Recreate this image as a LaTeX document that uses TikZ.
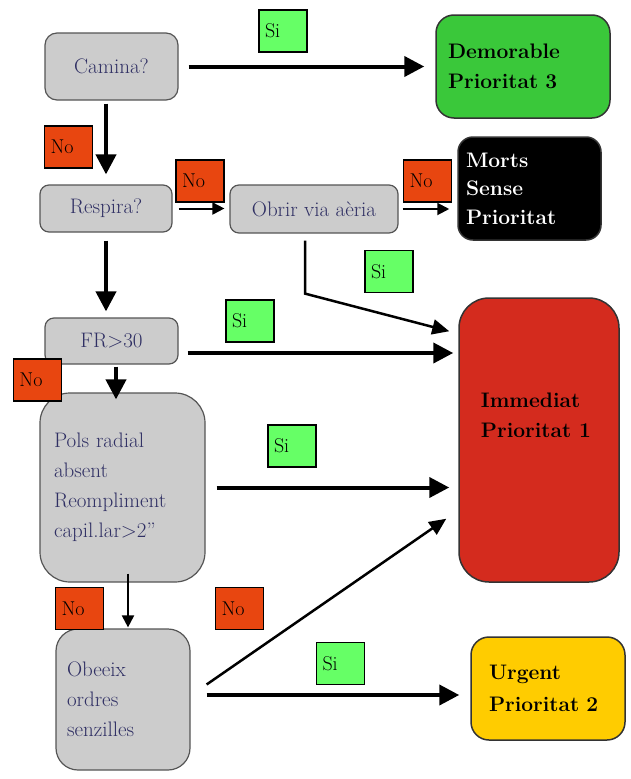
\documentclass[tikz,border=0pt]{standalone}
\usetikzlibrary{arrows.meta,calc}

\definecolor{boxgrey}{RGB}{204,204,204}
\definecolor{boxedge}{RGB}{85,85,85}
\definecolor{asktext}{RGB}{48,48,100}
\definecolor{demgreen}{RGB}{58,200,58}
\definecolor{immred}{RGB}{212,43,30}
\definecolor{urgyellow}{RGB}{255,204,0}
\definecolor{sigreen}{RGB}{102,255,102}
\definecolor{nored}{RGB}{232,70,16}

\tikzset{every picture/.style={line width=0.75pt}}
\tikzset{
  askbox/.style={draw=boxedge, line width=1.2pt, fill=boxgrey, text=asktext, inner sep=0pt, font=\fontsize{21}{30}\selectfont},
  endbox/.style={draw=black!80, line width=1.5pt, font=\bfseries\fontsize{21}{30}\selectfont, align=left},
  silabel/.style={draw, line width=1.5pt, fill=sigreen, minimum height=42pt, text width=36pt, inner xsep=6pt, align=left, font=\fontsize{20}{22}\selectfont},
  nolabel/.style={silabel, fill=nored},
  bigarrow/.style={line width=4pt, -{Triangle[length=20pt,width=20pt]}},
  midarrow/.style={line width=2.5pt, -{Triangle[length=17pt,width=15pt]}},
  smallarrow/.style={line width=2pt, -{Triangle[length=12pt,width=12pt]}}
}

\begin{document}
\begin{tikzpicture}[x=1pt,y=1pt,yscale=-1,xscale=1]
	\useasboundingbox (0,0) rectangle (630,779);
	
	%Rounded Rect: questions
	\node[askbox, rounded corners=12pt, minimum width=133pt, minimum height=67pt] (camina) at (111.5,66.5) {Camina?};
	\node[askbox, rounded corners=9pt, minimum width=132pt, minimum height=47pt] (respira) at (106,208.5) {Respira?};
	\node[askbox, rounded corners=9pt, minimum width=168pt, minimum height=48pt] (obrir) at (314,209) {Obrir via aèria};
	\node[askbox, rounded corners=9pt, minimum width=133pt, minimum height=46pt] (fr) at (111.5,341) {FR>30};
	\node[askbox, rounded corners=30pt, minimum height=189pt, text width=137pt, inner xsep=14pt, align=left] (pols) at (122.5,487.5) {Pols radial\\absent\\Reompliment\\capil.lar>2''};
	\node[askbox, rounded corners=22pt, minimum height=141pt, text width=112pt, inner xsep=11pt, align=left] (obeeix) at (123,699.5) {Obeeix\\ordres\\senzilles};
	
	%Rounded Rect: outcomes
	\node[endbox, fill=demgreen, rounded corners=18pt, minimum height=103pt, text width=150pt, inner xsep=12pt] (demor) at (523,66.5) {Demorable\\Prioritat 3};
	\node[endbox, fill=black, text=white, rounded corners=15pt, minimum height=103pt, text width=127pt, inner xsep=8pt, font=\bfseries\fontsize{21}{28.5}\selectfont] (morts) at (529.5,188.5) {Morts\\Sense\\Prioritat};
	\node[endbox, fill=immred, rounded corners=30pt, minimum width=160pt, minimum height=284pt] (immed) at (539,440) {};
	\node[endbox, draw=none, anchor=center] (immedtxt) at ($(immed.center)+(-3,-25)$) {Immediat\\Prioritat 1};
	\node[endbox, fill=urgyellow, rounded corners=18pt, minimum height=103pt, text width=118pt, inner xsep=18pt, font=\bfseries\fontsize{21}{32}\selectfont] (urgent) at (548,688.5) {Urgent\\Prioritat 2};
	
	%Free ends and bends
	\coordinate (bend) at ($(obrir.south)+(-9,60)$);
	\coordinate (imtop) at ($(immed.north west)+(-9,34)$);
	\coordinate (frout) at ($(fr.east)+(9,12)$);
	\coordinate (frdown) at ($(fr.south)+(4.5,0)$);
	\coordinate (polsdown) at ($(pols.south)+(5.5,-9)$);
	\coordinate (obdiag) at ($(obeeix.east)+(16,-15)$);
	\coordinate (imlow) at ($(immed.south west)+(-12,-64)$);
	\coordinate (obout) at ($(obeeix.east)+(16,-4.5)$);
	
	%Straight Lines
	\draw[bigarrow, shorten <=10pt, shorten >=11pt] (camina.east) -- (camina.east -| demor.west);
	\draw[bigarrow, shorten <=3pt, shorten >=10pt] (camina.south -| respira.north) -- (respira.north);
	\draw[smallarrow, shorten <=6pt, shorten >=5pt] (respira.east) -- (respira.east -| obrir.west);
	\draw[smallarrow, shorten <=4pt, shorten >=8pt] (obrir.east) -- (obrir.east -| morts.west);
	\draw[bigarrow, shorten <=8pt, shorten >=6pt] (respira.south) -- (respira.south |- fr.north);
	\draw[midarrow, shorten <=7pt] (obrir.south -| bend) -- (bend) -- (imtop);
	\draw[bigarrow, shorten >=5pt] (frout) -- (frout -| immed.west);
	\draw[bigarrow, shorten <=2pt, shorten >=-7pt] (frdown) -- (frdown |- pols.north);
	\draw[bigarrow, shorten <=11pt, shorten >=9pt] (pols.east) -- (pols.east -| immed.west);
	\draw[smallarrow, shorten >=1pt] (polsdown) -- (polsdown |- obeeix.north);
	\draw[midarrow] (obdiag) -- (imlow);
	\draw[bigarrow, shorten >=11pt] (obout) -- (obout -| urgent.west);
	
	% Text Node: answers
	\node[silabel] (si1) at (283,31) {Si};
	\node[nolabel] (no1) at (68.5,147) {No};
	\node[nolabel] (no2) at (200,181) {No};
	\node[nolabel] (no3) at (427.5,181) {No};
	\node[silabel] (si2) at (389,271.5) {Si};
	\node[silabel] (si3) at (250,321) {Si};
	\node[nolabel] (no4) at (37.5,380) {No};
	\node[silabel] (si4) at (292,446) {Si};
	\node[nolabel] (no5) at (79.5,608.5) {No};
	\node[nolabel] (no6) at (239.5,608.5) {No};
	\node[silabel] (si5) at (340.5,663.5) {Si};
	
\end{tikzpicture}
\end{document}
